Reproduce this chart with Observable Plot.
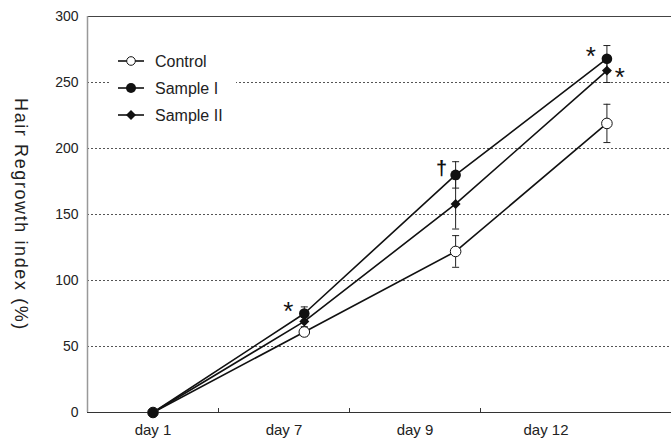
<!DOCTYPE html>
<html><head><meta charset="utf-8">
<script src="https://cdn.jsdelivr.net/npm/d3@7"></script>
<script src="https://cdn.jsdelivr.net/npm/@observablehq/plot@0.6"></script>
<style>
html,body{margin:0;padding:0;background:#fff;}
#chart{position:relative;width:671px;height:446px;}
#legend{position:absolute;left:0;top:0;pointer-events:none;}
</style></head><body><div id="chart"></div>
<script>
// ---- data ----
const days = ["day 1", "day 7", "day 9", "day 12"];
const seriesNames = ["Control", "Sample I", "Sample II"];
const controlValues = [0, 61, 122, 219];
const controlErrors = [0, 3, 12, 14.5];
const sample1Values = [0, 75, 180, 268];
const sample1Errors = [0, 5, 10, 10];
const sample2Values = [0, 69, 158, 259];
const sample2Errors = [0, 4, 19, 9];
const yTicks = [0, 50, 100, 150, 200, 250, 300];
const yTitle = "Hair Regrowth index (%)";
const starDays = ["day 7", "day 12"];          // "*" left of Sample I markers
const daggerDays = ["day 9"];                  // "†" left of Sample I marker
const rightStarDays = ["day 12"];              // "*" right of Sample II marker

// ---- build table ----
const valuesBySeries = {"Control": controlValues, "Sample I": sample1Values, "Sample II": sample2Values};
const errorsBySeries = {"Control": controlErrors, "Sample I": sample1Errors, "Sample II": sample2Errors};
const rows = [];
seriesNames.forEach(s => days.forEach((d, i) => rows.push({series: s, day: d, i, value: valuesBySeries[s][i], err: errorsBySeries[s][i]})));

// axis slots: one slot per day label; data markers spread slightly wider
const slots = 584 / 131;
const markerStep = 1.155;
const mx = d => 0.5 + d.i * markerStep;

const capSymbol = {draw(ctx) { ctx.moveTo(-3.5, 0); ctx.lineTo(3.5, 0); }};
const errRows = rows.filter(d => d.err > 0);
const find = (s, day) => rows.find(r => r.series === s && r.day === day);
const starRows = starDays.map(d => find("Sample I", d));
const daggerRows = daggerDays.map(d => find("Sample I", d));
const rightStarRows = rightStarDays.map(d => find("Sample II", d));

const font = "'Liberation Sans', Arial, sans-serif";
const chart = Plot.plot({
  width: 671, height: 446,
  marginLeft: 87, marginRight: 0, marginTop: 16, marginBottom: 34,
  style: {fontFamily: font, fontSize: "14px", color: "#222", background: "#fff"},
  x: {domain: [0, slots], label: null},
  y: {domain: [0, 300], label: null},
  marks: [
    Plot.ruleY(yTicks.filter(t => t > 0 && t < 300), {stroke: "#555", strokeDasharray: "2,2", strokeWidth: 1}),
    Plot.ruleY([300], {stroke: "#444", strokeWidth: 1.2}),
    Plot.ruleX([0], {stroke: "#999", strokeWidth: 1.5}),
    Plot.ruleY([0], {stroke: "#333", strokeWidth: 1.2}),
    Plot.ruleX([1, 2, 3], {y1: 0, y2: 3, stroke: "#333"}),
    Plot.axisY({ticks: yTicks, tickSize: 0, tickPadding: 9, label: null}),
    Plot.axisX({ticks: days.map((d, i) => i + 0.5), tickFormat: v => days[Math.floor(v)], tickSize: 0, tickPadding: 12, label: null}),
    Plot.text([yTitle], {text: d => d, frameAnchor: "left", textAnchor: "middle", rotate: 90, dx: -67, fontSize: 18}),
    // error bars
    Plot.ruleX(errRows, {x: mx, y1: d => d.value - d.err, y2: d => d.value + d.err, stroke: "#222", strokeWidth: 1}),
    Plot.dot(errRows, {x: mx, y: d => d.value + d.err, symbol: capSymbol, stroke: "#222", fill: "none", strokeWidth: 1}),
    Plot.dot(errRows, {x: mx, y: d => d.value - d.err, symbol: capSymbol, stroke: "#222", fill: "none", strokeWidth: 1}),
    // lines
    Plot.line(rows, {x: mx, y: "value", z: "series", stroke: "#111", strokeWidth: 1.6}),
    // markers
    Plot.dot(rows.filter(d => d.series === "Control"), {x: mx, y: "value", r: 5.3, fill: "white", stroke: "#111", strokeWidth: 1}),
    Plot.dot(rows.filter(d => d.series === "Sample II"), {x: mx, y: "value", r: 4.5, symbol: "diamond2", fill: "#111", stroke: "none"}),
    Plot.dot(rows.filter(d => d.series === "Sample I"), {x: mx, y: "value", r: 5.3, fill: "#111", stroke: "none"}),
    // significance marks
    Plot.text(starRows, {x: mx, y: "value", text: () => "*", dx: -16, dy: -2, fontSize: 26, fill: "#111"}),
    Plot.text(daggerRows, {x: mx, y: "value", text: () => "\u2020", dx: -14, dy: -6, fontSize: 20, fontWeight: "bold", fill: "#111"}),
    Plot.text(rightStarRows, {x: mx, y: "value", text: () => "*", dx: 13, dy: 7, fontSize: 26, fill: "#111"})
  ]
});
document.getElementById("chart").appendChild(chart);
// text sizing for axes and title
const svgSel = d3.select(chart.tagName.toLowerCase() === "svg" ? chart : chart.querySelector("svg"));
const yTickText = new Set(yTicks.map(String));
const dayText = new Set(days);
svgSel.selectAll("text").each(function() {
  const t = this.textContent;
  if (yTickText.has(t)) this.style.fontSize = "14px";
  else if (dayText.has(t)) this.style.fontSize = "15px";
  else if (t === yTitle) { this.style.fontSize = "18px"; this.style.letterSpacing = "1.6px"; }
});

// legend overlay (inside plot area, white box)
const lg = d3.select("#chart").append("svg").attr("id", "legend").attr("width", 671).attr("height", 446);
lg.append("rect").attr("x", 109).attr("y", 44).attr("width", 127).attr("height", 84).attr("fill", "white");
const legendY = [61, 88, 115];
seriesNames.forEach((s, k) => {
  const g = lg.append("g").attr("transform", `translate(0,${legendY[k]})`);
  g.append("line").attr("x1", 118).attr("x2", 144).attr("y1", 0).attr("y2", 0).attr("stroke", "#111").attr("stroke-width", 1.6);
  if (s === "Control") g.append("circle").attr("cx", 131).attr("cy", 0).attr("r", 4.3).attr("fill", "white").attr("stroke", "#111");
  else if (s === "Sample I") g.append("circle").attr("cx", 131).attr("cy", 0).attr("r", 5).attr("fill", "#111");
  else g.append("path").attr("d", "M131,-5L136,0L131,5L126,0Z").attr("fill", "#111");
  g.append("text").attr("x", 155).attr("y", 0).attr("dy", "0.35em").attr("font-family", font).attr("font-size", 16).attr("fill", "#222").text(s);
});
</script></body></html>
